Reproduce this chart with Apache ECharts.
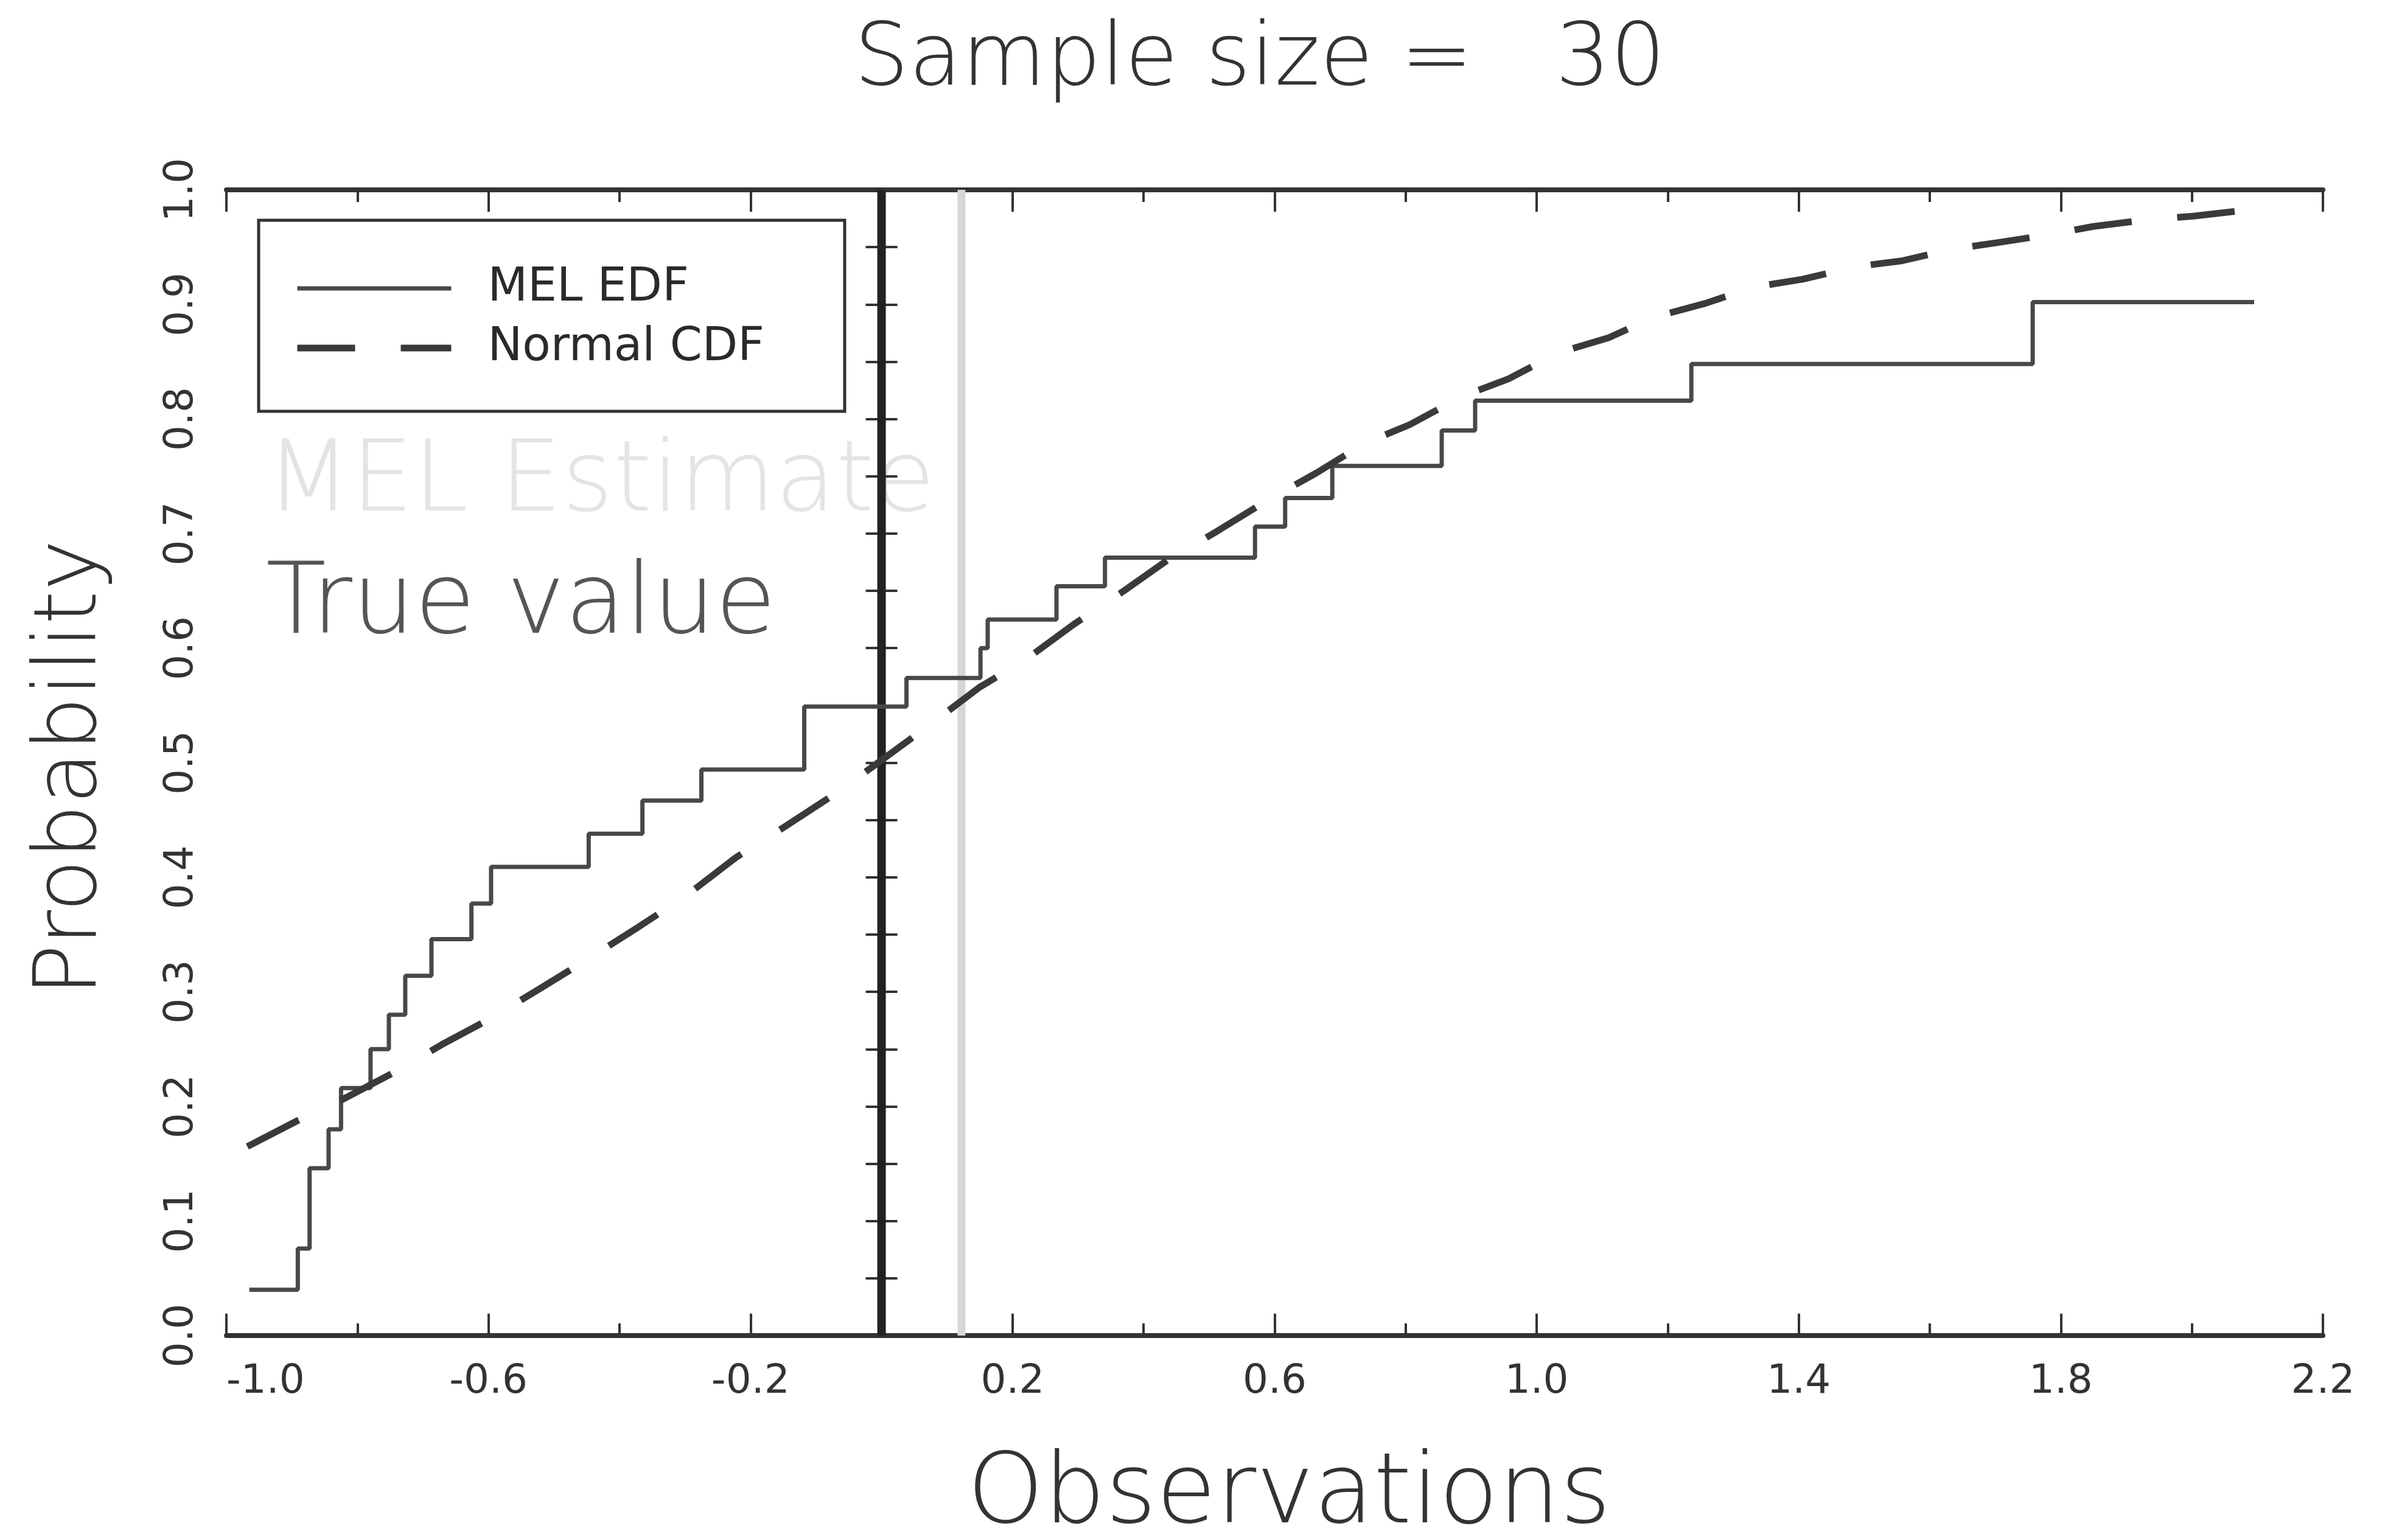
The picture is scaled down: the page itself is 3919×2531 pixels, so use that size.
<!DOCTYPE html>
<html>
<head>
<meta charset="utf-8">
<title>Sample size = 30</title>
<script src="https://cdn.jsdelivr.net/npm/echarts@6/dist/echarts.min.js"></script>
<style>
html, body { margin: 0; padding: 0; background: #fff; }
#myChart { width: 3919px; height: 2531px; }
</style>
</head>
<body>
<div id="myChart"></div>
<script>
// tick labels
var xTickLabels = ['-1.0', '-0.8', '-0.6', '-0.4', '-0.2', '0.0', '0.2', '0.4', '0.6', '0.8',
                   '1.0', '1.2', '1.4', '1.6', '1.8', '2.0', '2.2'];
var yTickLabels = ['0.0', '0.1', '0.2', '0.3', '0.4', '0.5', '0.6', '0.7', '0.8', '0.9', '1.0'];

// MEL EDF: jump positions and level after each jump (last point = end of line)
var edfX = [-0.965, -0.891, -0.873, -0.844, -0.825, -0.780, -0.752, -0.727, -0.687, -0.626,
            -0.596, -0.447, -0.365, -0.275, -0.118, 0.038, 0.151, 0.162, 0.267, 0.341,
            0.570, 0.616, 0.688, 0.855, 0.906, 1.236, 1.757, 2.095];
var edfP = [0.040, 0.076, 0.146, 0.180, 0.216, 0.250, 0.280, 0.314, 0.346, 0.377,
            0.409, 0.438, 0.467, 0.494, 0.549, 0.574, 0.600, 0.625, 0.654, 0.679,
            0.706, 0.731, 0.759, 0.790, 0.816, 0.848, 0.902, 0.902];

// Normal CDF, points
var normX = [-0.968, -0.890, -0.823, -0.743, -0.671, -0.596, -0.521, -0.447, -0.370, -0.298,
             -0.223, -0.148, -0.073, -0.010, 0.071, 0.150, 0.220, 0.294, 0.370, 0.437,
             0.512, 0.586, 0.664, 0.738, 0.806, 0.887, 0.957, 1.034, 1.110, 1.180,
             1.258, 1.330, 1.406, 1.487, 1.557, 1.632, 1.704, 1.783, 1.849, 1.933,
             2.002, 2.078];
var normP = [0.165, 0.188, 0.206, 0.230, 0.254, 0.277, 0.303, 0.329, 0.357, 0.384,
             0.417, 0.444, 0.472, 0.498, 0.532, 0.566, 0.590, 0.621, 0.650, 0.677,
             0.702, 0.728, 0.753, 0.779, 0.795, 0.820, 0.835, 0.858, 0.871, 0.889,
             0.901, 0.915, 0.922, 0.933, 0.938, 0.948, 0.954, 0.961, 0.968, 0.974,
             0.977, 0.982];

// vertical reference lines
var trueValue = 0.0;
var melEstimate = 0.122;

var edfData = [];
for (var i = 0; i < edfX.length; i++) {
    edfData.push([edfX[i], edfP[i]]);
}
var normData = [];
for (var j = 0; j < normX.length; j++) {
    normData.push([normX[j], normP[j]]);
}

var frameColor = '#333';
var fontFam = 'DejaVu Sans';

var chart = echarts.init(document.getElementById('myChart'));
chart.setOption({
    animation: false,
    backgroundColor: '#fff',
    grid: { left: 372, right: 102, top: 312, bottom: 336 },
    legend: {
        data: ['MEL EDF', 'Normal CDF'],
        orient: 'vertical',
        left: 425,
        top: 362,
        padding: [74, 132, 66, 58],
        itemGap: 22,
        itemWidth: 253,
        itemHeight: 40,
        borderColor: frameColor,
        borderWidth: 5,
        itemStyle: { opacity: 0 },
        lineStyle: { width: 'inherit' },
        textStyle: {
            fontFamily: fontFam,
            fontSize: 76,
            color: '#2a2a2a',
            padding: [0, 0, 0, 55]
        }
    },
    graphic: [
        {
            type: 'text', x: 2070, y: 102,
            style: { text: 'Sample size =   30', fontFamily: fontFam, fontWeight: 200,
                     fontSize: 142, fill: '#333', align: 'center', verticalAlign: 'middle' }
        },
        {
            type: 'text', x: 120, y: 1262, rotation: Math.PI / 2,
            style: { text: 'Probability', fontFamily: fontFam, fontWeight: 200,
                     fontSize: 142, fill: '#333', align: 'center', verticalAlign: 'middle' }
        },
        {
            type: 'text', x: 2118, y: 2460,
            style: { text: 'Observations', fontFamily: fontFam, fontWeight: 200,
                     fontSize: 160, fill: '#333', align: 'center', verticalAlign: 'middle' }
        },
        {
            type: 'text', x: 437, y: 797, z: 0,
            style: { text: 'MEL Estimate', fontFamily: fontFam, fontWeight: 200,
                     fontSize: 162, fill: '#e4e4e4', align: 'left', verticalAlign: 'middle' }
        },
        {
            type: 'text', x: 437, y: 998, z: 0,
            style: { text: 'True value', fontFamily: fontFam, fontWeight: 200,
                     fontSize: 162, fill: '#555', align: 'left', verticalAlign: 'middle' }
        }
    ],
    xAxis: [
        {
            // bottom frame, short ticks every 0.2
            type: 'value', position: 'bottom', min: -1.0, max: 2.2, interval: 0.2,
            axisLine: { show: true, lineStyle: { color: frameColor, width: 8 } },
            axisTick: { show: true, inside: true, length: 20, lineStyle: { color: frameColor, width: 4 } },
            axisLabel: { show: false },
            splitLine: { show: false }
        },
        {
            // bottom labels and long ticks
            type: 'category', position: 'bottom', data: xTickLabels, boundaryGap: false,
            axisLine: { show: false },
            axisTick: { show: true, inside: true, interval: 1, length: 36, lineStyle: { color: frameColor, width: 4 } },
            axisLabel: { show: true, interval: 1, margin: 44, alignMinLabel: 'left',
                         fontFamily: fontFam, fontSize: 66, color: '#333' },
            splitLine: { show: false }
        },
        {
            type: 'value', position: 'top', min: -1.0, max: 2.2, interval: 0.2,
            axisLine: { show: true, lineStyle: { color: frameColor, width: 8 } },
            axisTick: { show: true, inside: true, length: 20, lineStyle: { color: frameColor, width: 4 } },
            axisLabel: { show: false },
            splitLine: { show: false }
        },
        {
            type: 'category', position: 'top', data: xTickLabels, boundaryGap: false,
            axisLine: { show: false },
            axisTick: { show: true, inside: true, interval: 1, length: 36, lineStyle: { color: frameColor, width: 4 } },
            axisLabel: { show: false },
            splitLine: { show: false }
        }
    ],
    yAxis: [
        {
            type: 'value', position: 'left', min: 0, max: 1, interval: 0.05,
            axisLine: { show: true, lineStyle: { color: frameColor, width: 8 } },
            axisTick: { show: true, inside: true, length: 26, lineStyle: { color: frameColor, width: 4 } },
            axisLabel: {
                show: true, rotate: 90, margin: 40,
                fontFamily: fontFam, fontSize: 66, color: '#333',
                formatter: function (v) {
                    var k = Math.round(v / 0.05);
                    return k % 2 === 0 ? yTickLabels[k / 2] : '';
                }
            },
            splitLine: { show: false }
        },
        {
            type: 'value', position: 'right', min: 0, max: 1, interval: 0.05,
            axisLine: { show: true, lineStyle: { color: frameColor, width: 8 } },
            axisTick: { show: true, inside: true, length: 26, lineStyle: { color: frameColor, width: 4 } },
            axisLabel: { show: false },
            splitLine: { show: false }
        }
    ],
    series: [
        {
            name: 'MEL Estimate', type: 'line', xAxisIndex: 0, yAxisIndex: 0,
            data: [[melEstimate, 0], [melEstimate, 1]],
            symbol: 'none', silent: true, z: 1,
            lineStyle: { color: '#d6d6d6', width: 13 }
        },
        {
            name: 'True value', type: 'line', xAxisIndex: 0, yAxisIndex: 0,
            data: [[trueValue, 0], [trueValue, 1]],
            symbol: 'none', silent: true, z: 1,
            lineStyle: { color: '#222', width: 14 }
        },
        {
            name: 'MEL EDF', type: 'line', xAxisIndex: 0, yAxisIndex: 0,
            step: 'end', data: edfData, symbol: 'none', z: 3,
            itemStyle: { color: '#484848' },
            lineStyle: { color: '#484848', width: 7 }
        },
        {
            name: 'Normal CDF', type: 'line', xAxisIndex: 0, yAxisIndex: 0,
            data: normData, symbol: 'none', z: 3,
            itemStyle: { color: '#3a3a3a' },
            lineStyle: { color: '#3a3a3a', width: 11, type: [95, 75], cap: 'butt' }
        }
    ]
});
</script>
</body>
</html>
